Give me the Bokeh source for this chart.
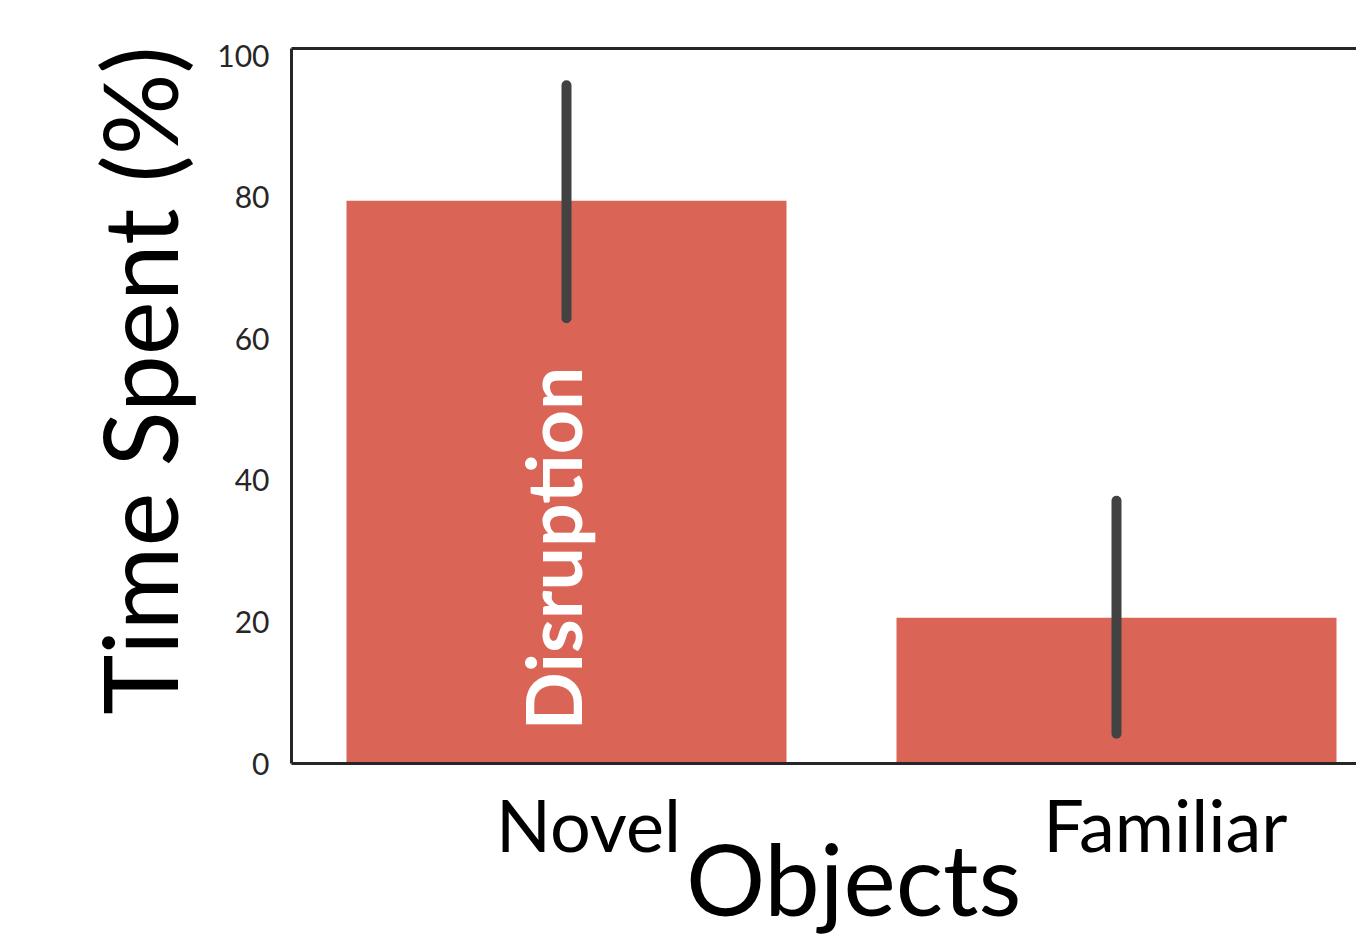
from bokeh.plotting import figure
from bokeh.models import ColumnDataSource, Range1d, LinearAxis, FixedTicker, Label
from bokeh.embed import file_html
from bokeh.resources import INLINE
import math

categories = ["Novel", "Familiar"]
means = [79.5, 20.6]
ci_low = [62.9, 4.2]
ci_high = [95.8, 37.1]
y_ticks = [0, 20, 40, 60, 80, 100]
y_max = 101
x_label = "Objects"
y_label = "Time Spent (%)"
annotation = "Disruption"

FONT = "Lato"
AX = "#262626"
BAR = "#da6456"
ERR = "#424242"

xpos = list(range(len(categories)))
src = ColumnDataSource(dict(x=xpos, top=means, lo=ci_low, hi=ci_high, cat=categories))

W, H = 1356, 940
left, top, bottom = 291, 48, 177
frame_w = W - left
frame_h = H - top - bottom
px_per_cat = 550.0
x0 = -0.5
x1 = x0 + frame_w / px_per_cat
ppu = frame_h / y_max  # pixels per y unit

p = figure(width=W, height=H, output_backend="svg", toolbar_location=None,
           x_range=Range1d(x0, x1), y_range=Range1d(0, y_max),
           min_border_left=left, min_border_top=top, min_border_bottom=bottom,
           min_border_right=0, x_axis_location=None, y_axis_location=None)
p.outline_line_color = None
p.xgrid.visible = False
p.ygrid.visible = False
p.background_fill_color = "white"
p.border_fill_color = "white"

p.vbar(x="x", top="top", bottom=0, width=0.8, source=src, fill_color=BAR, line_color=None)
p.segment(x0="x", y0="lo", x1="x", y1="hi", source=src, line_color=ERR,
          line_width=10, line_cap="round")


def plain_axis(ticks, line_color=AX):
    ax = LinearAxis(ticker=FixedTicker(ticks=ticks))
    ax.axis_line_color = line_color
    ax.axis_line_width = 3
    ax.major_tick_line_color = None
    ax.minor_tick_line_color = None
    ax.major_tick_out = 0
    ax.major_tick_in = 0
    return ax


# y axis (left)
yax = plain_axis(y_ticks)
yax.major_label_text_font = FONT
yax.major_label_text_font_size = "30px"
yax.major_label_text_color = AX
yax.major_label_standoff = 22
p.add_layout(yax, "left")

# y axis title, drawn as the single label of an outer left axis
y_title_pos = round(383 / ppu, 2)
ytax = plain_axis([y_title_pos], line_color=None)
ytax.major_label_overrides = {y_title_pos: y_label}
ytax.major_label_orientation = "vertical"
ytax.major_label_text_font = FONT
ytax.major_label_text_font_size = "102px"
ytax.major_label_text_color = "black"
ytax.major_label_standoff = 14
p.add_layout(ytax, "left")

# bottom axis with category labels (slightly offset as in the reference)
cat_shift = [22 / px_per_cat, 49 / px_per_cat]
tick_pos = [round(xpos[i] + cat_shift[i], 3) for i in range(len(categories))]
bax = plain_axis(tick_pos)
bax.major_label_overrides = {tick_pos[i]: categories[i] for i in range(len(categories))}
bax.major_label_text_font = FONT
bax.major_label_text_font_size = "72px"
bax.major_label_text_color = "black"
bax.major_label_standoff = 17
p.add_layout(bax, "below")

# x axis title, drawn as the single label of an outer bottom axis
x_title_pos = round((853 - 291) / px_per_cat + x0, 3)
xtax = plain_axis([x_title_pos], line_color=None)
xtax.major_label_overrides = {x_title_pos: x_label}
xtax.major_label_text_font = FONT
xtax.major_label_text_font_size = "99px"
xtax.major_label_text_color = "black"
xtax.major_label_standoff = -52
p.add_layout(xtax, "below")

# top spine
tax = plain_axis([])
p.add_layout(tax, "above")

p.add_layout(Label(x=-15 / px_per_cat, y=33 / ppu, text=annotation,
                   angle=math.pi / 2, text_font=FONT, text_font_size="77px",
                   text_font_style="bold", text_color="white",
                   text_align="left", text_baseline="alphabetic"))

open("out.html", "w").write(file_html(p, INLINE))
